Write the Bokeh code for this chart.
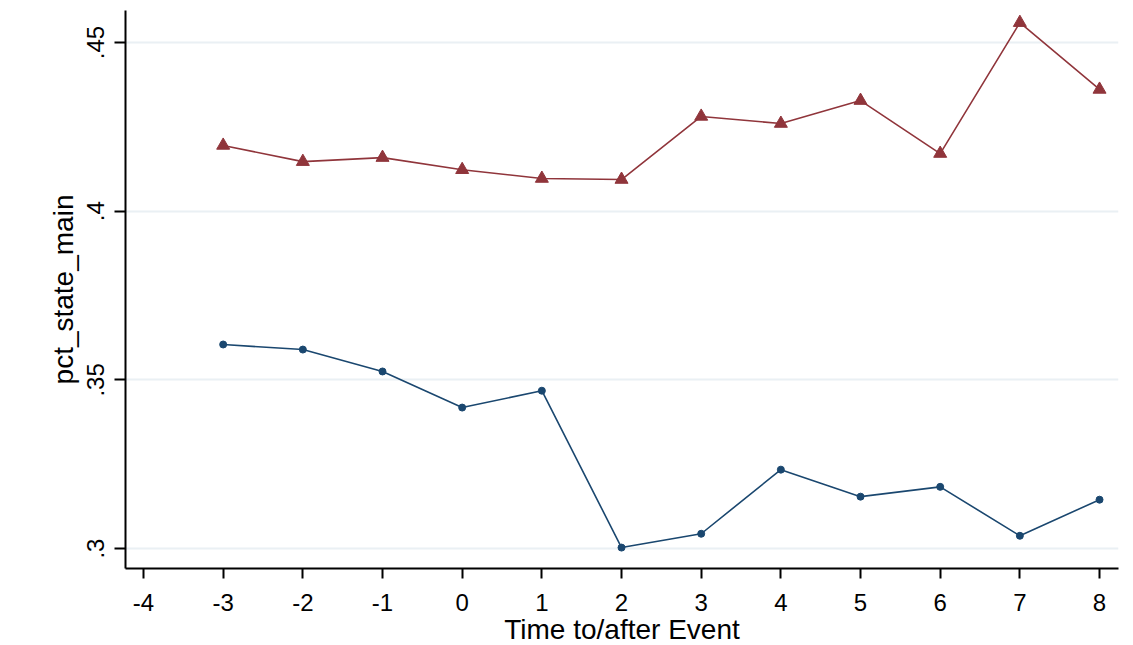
from bokeh.plotting import figure
from bokeh.models import Range1d, FixedTicker, ColumnDataSource
from bokeh.embed import file_html
from bokeh.resources import INLINE

# Data
time = [-3, -2, -1, 0, 1, 2, 3, 4, 5, 6, 7, 8]
treated = [0.4195, 0.4147, 0.4159, 0.4123, 0.4097, 0.4094, 0.4281, 0.4260, 0.4328, 0.4171, 0.4559, 0.4361]
control = [0.3605, 0.3590, 0.3525, 0.3418, 0.3468, 0.3003, 0.3044, 0.3234, 0.3154, 0.3183, 0.3038, 0.3145]
x_ticks = [-4, -3, -2, -1, 0, 1, 2, 3, 4, 5, 6, 7, 8]
x_tick_labels = {-4: "-4", -3: "-3", -2: "-2", -1: "-1"}
y_ticks = [0.30, 0.35, 0.40, 0.45]
y_tick_labels = {0.30: ".3", 0.35: ".35", 0.40: ".4", 0.45: ".45"}

RED = "#90353b"
BLUE = "#1a476f"
FONT = "Liberation Sans"

p = figure(frame_width=993, frame_height=558, output_backend="svg", toolbar_location=None,
           x_range=Range1d(-4.226, 8.238), y_range=Range1d(0.2941, 0.4595),
           min_border_left=125, min_border_right=8, min_border_top=10, min_border_bottom=60)
p.outline_line_color = None
p.background_fill_color = "white"
p.border_fill_color = "white"

src_t = ColumnDataSource(dict(x=time, y=treated))
src_c = ColumnDataSource(dict(x=time, y=control))

p.line("x", "y", source=src_t, line_color=RED, line_width=1.6)
p.scatter("x", "y", source=src_t, marker="triangle", size=13, fill_color=RED, line_color=RED)
p.line("x", "y", source=src_c, line_color=BLUE, line_width=1.6)
p.scatter("x", "y", source=src_c, marker="circle", size=7, fill_color=BLUE, line_color=BLUE)

# Axes
p.xaxis.ticker = FixedTicker(ticks=x_ticks)
p.yaxis.ticker = FixedTicker(ticks=y_ticks)
p.xaxis.major_label_overrides = x_tick_labels
p.yaxis.major_label_overrides = y_tick_labels
p.xaxis.minor_tick_line_color = None
p.yaxis.minor_tick_line_color = None
for ax in (p.xaxis[0], p.yaxis[0]):
    ax.axis_line_color = "black"
    ax.axis_line_width = 2
    ax.major_tick_line_color = "black"
    ax.major_tick_line_width = 2
    ax.major_tick_in = 0
    ax.major_label_text_font = FONT
    ax.major_label_text_color = "black"
    ax.major_label_text_font_size = "24px"
    ax.axis_label_text_font = FONT
    ax.axis_label_text_font_style = "normal"
    ax.axis_label_text_color = "black"
    ax.axis_label_text_font_size = "28px"

p.xaxis.major_tick_out = 10
p.yaxis.major_tick_out = 11
p.xaxis.major_label_standoff = 15
p.yaxis.major_label_standoff = 10
p.yaxis.major_label_orientation = "vertical"
p.xaxis.axis_label = "Time to/after Event"
p.yaxis.axis_label = "pct_state_main"
p.xaxis.axis_label_standoff = 0
p.yaxis.axis_label_standoff = 6

p.xgrid.grid_line_color = None
p.ygrid.grid_line_color = "#eaf0f4"
p.ygrid.grid_line_width = 2

open("out.html", "w").write(file_html(p, INLINE))
